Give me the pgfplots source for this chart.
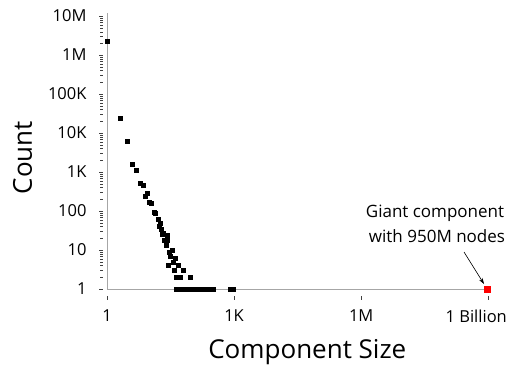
\documentclass[border=0pt]{standalone}
\usepackage{fontspec}
\setmainfont{Open Sans}
\usepackage{pgfplots}
\pgfplotsset{compat=1.18}
\usetikzlibrary{arrows.meta}
\begin{document}
\begin{tikzpicture}
\begin{axis}[
  scale only axis, width=383pt, height=276pt,
  xmode=log, ymode=log, xmin=1, xmax=1.1e9, ymin=1, ymax=1.2e7,
  axis lines=left, axis line style={-, draw=black!35},
  xtick={1,1e3,1e6,1e9},
  xticklabels={1,1K,1M,{\hbox to 0pt{\hss\hskip-24pt 1 Billion\hss}}},
  ytick={1,10,100,1e3,1e4,1e5,1e6,1e7},
  yticklabels={1,10,100,1K,10K,100K,1M,10M},
  minor xtick={}, minor ytick={},
  tick align=outside, major tick length=4pt,
  xtick style={draw=black!75, yshift=-7pt},
  ytick style={draw=black!75, xshift=-4pt},
  tick label style={font=\fontsize{16.5}{18}\selectfont},
  yticklabel style={xshift=-13pt},
  xticklabel style={yshift=-13pt},
  xlabel={Component Size}, ylabel={Count},
  label style={font=\fontsize{26}{30}\selectfont},
  xlabel style={at={(axis description cs:0.523,0)}, anchor=base, yshift=-69pt},
  ylabel style={at={(axis description cs:0,0.476)}, anchor=base, yshift=75pt},
  clip=false,
]
\addplot[only marks, mark=square*, mark size=2pt, black] coordinates {
(1,2300000) (2,24000) (3,6000) (4,1600) (5,1100) (6,520) (7,460) (8,240) (9,290)
(10,165) (11,155) (13,95) (14,88) (16,60) (17,40) (18,48) (19,34) (20,26) (21,27)
(23,18) (25,13) (26,24) (27,18) (28,4) (29,9) (31,7) (34,10) (37,5) (38,3) (41,6)
(43,2) (48,2) (49,4) (53,2) (63,3) (91,2)
(42,1) (45,1) (47,1) (50,1) (52,1) (55,1) (58,1) (61,1) (64,1) (67,1) (71,1) (74,1)
(78,1) (82,1) (86,1) (90,1) (95,1) (100,1) (105,1) (110,1) (115,1) (121,1) (127,1)
(133,1) (140,1) (147,1) (154,1) (162,1) (170,1) (178,1) (185,1)
(245,1) (315,1) (800,1) (950,1)
};
\addplot[only marks, mark=square*, mark size=3.3pt, red] coordinates {(950000000,1)};
\end{axis}
\node[anchor=base, font=\fontsize{17}{20}\selectfont] at (328pt,71pt) {Giant component};
\node[anchor=base, font=\fontsize{17}{20}\selectfont] at (330pt,46pt) {with 950M nodes};
\draw[-{Stealth[length=6pt,width=4pt]}, semithick] (357pt,37pt) -- (377pt,5pt);
\pgfresetboundingbox
\useasboundingbox (-107pt,-75pt) rectangle (404pt,289pt);
\end{tikzpicture}
\end{document}
